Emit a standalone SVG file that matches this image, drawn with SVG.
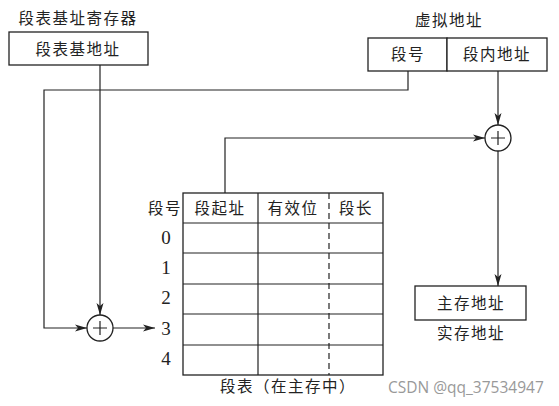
<svg xmlns="http://www.w3.org/2000/svg" width="559" height="406" viewBox="0 0 559 406">
<style>
.t{font-family:"Noto Sans CJK SC","Liberation Serif",serif;font-size:15.5px;fill:#222;text-anchor:middle;letter-spacing:1.5px}
.d{font-family:"Liberation Serif",serif;font-size:19px;fill:#222;text-anchor:middle}
.b{fill:#fff;stroke:#222;stroke-width:1.3}
.l{fill:none;stroke:#222;stroke-width:1.2}
.w{font-family:"Open Sans","Liberation Sans",sans-serif;font-size:15.5px;fill:#999}
</style>
<defs>
<marker id="a" viewBox="0 0 12 8" refX="12" refY="4" markerWidth="12" markerHeight="8" markerUnits="userSpaceOnUse" orient="auto">
<path d="M0,0.5 L12,4 L0,7.5 L3,4 Z" fill="#222"/>
</marker>
</defs>
<rect width="559" height="406" fill="#fff"/>
<g id="reg">
<text class="t" x="78" y="24">段表基址寄存器</text>
<rect class="b" x="9" y="32" width="139" height="33"/>
<text class="t" x="78" y="55">段表基地址</text>
</g>
<g id="va">
<text class="t" x="449" y="26">虚拟地址</text>
<rect class="b" x="368" y="38" width="79" height="33"/>
<rect class="b" x="447" y="38" width="100" height="33"/>
<text class="t" x="408" y="60">段号</text>
<text class="t" x="497" y="60">段内地址</text>
</g>
<g id="adder1">
<circle class="b" cx="100" cy="328" r="13"/>
<path class="l" d="M93,328 H107 M100,321 V335"/>
</g>
<g id="adder2">
<circle class="b" cx="498" cy="138" r="13"/>
<path class="l" d="M491,138 H505 M498,131 V145"/>
</g>
<g id="table">
<rect class="b" x="183" y="193" width="200" height="182"/>
<path class="l" d="M183,223 H383 M183,253 H383 M183,284 H383 M183,314 H383 M183,345 H383 M258,193 V375"/>
<path class="l" d="M329,193 V375" stroke-dasharray="6,4"/>
<text class="t" x="220" y="214">段起址</text>
<text class="t" x="293" y="214">有效位</text>
<text class="t" x="356" y="214">段长</text>
<text class="t" x="165" y="214">段号</text>
<text class="d" x="166" y="244">0</text>
<text class="d" x="166" y="274">1</text>
<text class="d" x="166" y="304">2</text>
<text class="d" x="166" y="335">3</text>
<text class="d" x="166" y="365">4</text>
<text class="t" x="288" y="392">段表（在主存中）</text>
</g>
<g id="pa">
<rect class="b" x="415" y="286" width="111" height="34"/>
<text class="t" x="471" y="309">主存地址</text>
<text class="t" x="471" y="339">实存地址</text>
</g>
<g id="connectors">
<path class="l" d="M100,65 V315" marker-end="url(#a)"/>
<path class="l" d="M408,71 V90 H44 V328 H87" marker-end="url(#a)"/>
<path class="l" d="M113,328 H155" marker-end="url(#a)"/>
<path class="l" d="M498,71 V125" marker-end="url(#a)"/>
<path class="l" d="M225,193 V138 H485" marker-end="url(#a)"/>
<path class="l" d="M498,151 V286" marker-end="url(#a)"/>
</g>
<text class="w" x="388" y="393">CSDN @qq_37534947</text>
</svg>
